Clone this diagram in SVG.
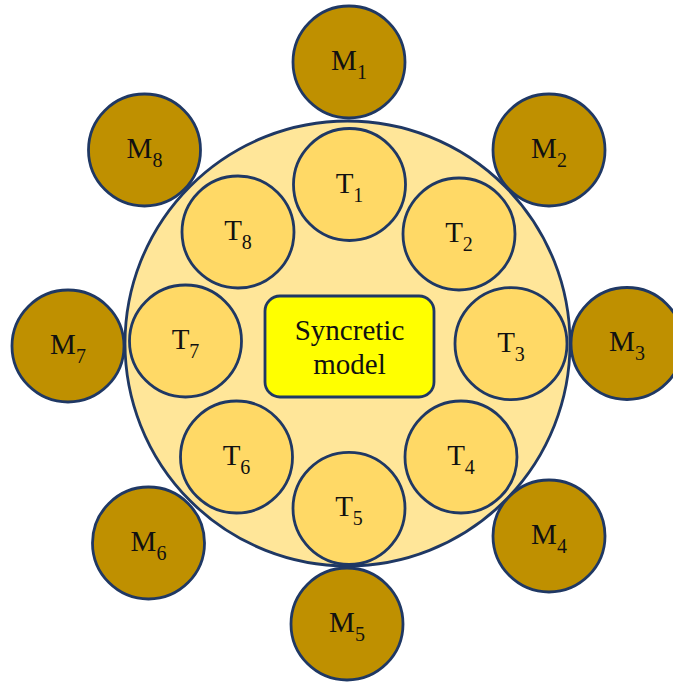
<svg xmlns="http://www.w3.org/2000/svg" width="673" height="682" viewBox="0 0 673 682">
<style>
.m{fill:#BF9000;stroke:#1F3864;stroke-width:2.8}
.t{fill:#FFD966;stroke:#1F3864;stroke-width:2.8}
.big{fill:#FFE699;stroke:#1F3864;stroke-width:2.8}
.box{fill:#FFFF00;stroke:#1F3864;stroke-width:2.8}
text{font-family:"Liberation Serif","Times New Roman",serif;font-size:29px;fill:#111;text-anchor:middle}
.s{font-size:20px}
</style>
<rect width="673" height="682" fill="#fff"/>
<g id="connectors"></g>
<g id="outer"><circle class="big" cx="347.5" cy="343.5" r="222.5"/></g>
<g id="M1"><circle class="m" cx="349" cy="62" r="56"/><text x="349" y="70">M<tspan class="s" dy="9">1</tspan></text></g>
<g id="M2"><circle class="m" cx="549" cy="150" r="56"/><text x="549" y="158">M<tspan class="s" dy="9">2</tspan></text></g>
<g id="M3"><circle class="m" cx="627" cy="343.5" r="56"/><text x="627" y="351">M<tspan class="s" dy="9">3</tspan></text></g>
<g id="M4"><circle class="m" cx="549" cy="536" r="56"/><text x="549" y="544">M<tspan class="s" dy="9">4</tspan></text></g>
<g id="M5"><circle class="m" cx="347" cy="624" r="56"/><text x="347" y="632">M<tspan class="s" dy="9">5</tspan></text></g>
<g id="M6"><circle class="m" cx="148.5" cy="543" r="56"/><text x="148.5" y="551">M<tspan class="s" dy="9">6</tspan></text></g>
<g id="M7"><circle class="m" cx="68" cy="346" r="56"/><text x="68" y="354">M<tspan class="s" dy="9">7</tspan></text></g>
<g id="M8"><circle class="m" cx="144.5" cy="150" r="56"/><text x="144.5" y="158">M<tspan class="s" dy="9">8</tspan></text></g>
<g id="T1"><circle class="t" cx="349.5" cy="184.5" r="56"/><text x="349.5" y="193">T<tspan class="s" dy="9">1</tspan></text></g>
<g id="T2"><circle class="t" cx="459" cy="234" r="56"/><text x="459" y="242">T<tspan class="s" dy="9">2</tspan></text></g>
<g id="T3"><circle class="t" cx="511" cy="343.7" r="56"/><text x="511" y="352">T<tspan class="s" dy="9">3</tspan></text></g>
<g id="T4"><circle class="t" cx="461" cy="457" r="56"/><text x="461" y="465">T<tspan class="s" dy="9">4</tspan></text></g>
<g id="T5"><circle class="t" cx="349" cy="508.3" r="56"/><text x="349" y="516">T<tspan class="s" dy="9">5</tspan></text></g>
<g id="T6"><circle class="t" cx="236.5" cy="457" r="56"/><text x="236.5" y="465">T<tspan class="s" dy="9">6</tspan></text></g>
<g id="T7"><circle class="t" cx="185.5" cy="341" r="56"/><text x="185.5" y="349">T<tspan class="s" dy="9">7</tspan></text></g>
<g id="T8"><circle class="t" cx="238" cy="232" r="56"/><text x="238" y="240">T<tspan class="s" dy="9">8</tspan></text></g>
<g id="syncretic"><rect class="box" x="265" y="296" width="169" height="101" rx="15"/><text x="349.5" y="340">Syncretic</text><text x="349.5" y="374">model</text></g>
</svg>
